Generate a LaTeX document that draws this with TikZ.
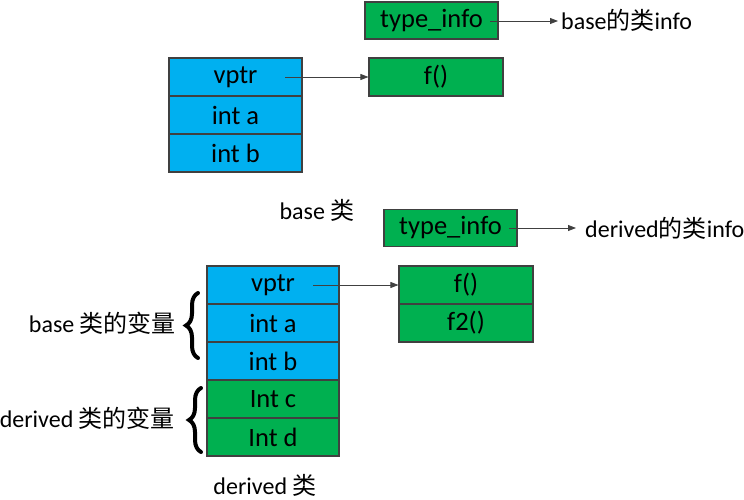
\documentclass[tikz,border=0pt]{standalone}
\usepackage{fontspec}
\setmainfont{Carlito}
\newfontfamily\cjk{Noto Sans CJK SC}
\usetikzlibrary{arrows.meta,decorations.pathreplacing}
\definecolor{cellblue}{HTML}{00B0F0}
\definecolor{cellgreen}{HTML}{00B050}
\definecolor{edgegray}{HTML}{404040}
\tikzset{
  cell/.style={draw=edgegray, line width=1.1pt, minimum height=38pt, inner sep=0pt,
    font=\fontsize{26.5}{30}\selectfont},
  bcell/.style={cell, fill=cellblue, minimum width=133pt},
  gcell/.style={cell, fill=cellgreen, minimum width=133pt},
  lbl/.style={inner sep=0pt, font=\fontsize{24}{28}\selectfont},
  ptr/.style={draw=edgegray, line width=0.8pt, -{Triangle[length=8pt,width=6pt]}},
  bracestyle/.style={decorate, decoration={brace, amplitude=12pt}, line width=4pt, line cap=round}
}
\begin{document}
\begin{tikzpicture}[x=1pt,y=-1pt]
\useasboundingbox (0,0) rectangle (744,500);
% base class
\node[gcell, minimum width=133pt, minimum height=37pt] (ti1) at (431.5,20.5) {type\_info};
\node[lbl, anchor=west] (ti1l) at (561,20) {base{\cjk 的类}info};
\node[bcell] (bvptr) at (235.5,77) {vptr};
\node[bcell] (ba) at (235.5,115) {int a};
\node[bcell] (bb) at (235.5,153) {int b};
\node[gcell, minimum width=134pt] (bf) at (436,77) {f()};
\node[lbl] (bcls) at (317,210) {base {\cjk 类}};
\coordinate (ti1s) at (490,21);
\coordinate (ti1e) at (558,21);
\draw[ptr] (ti1s) -- (ti1e);
\coordinate (bvs) at (285,77);
\draw[ptr] (bvs) -- (bf.west);
% derived class
\node[gcell, minimum height=37pt] (ti2) at (450.5,228) {type\_info};
\node[lbl, anchor=west] (ti2l) at (585,228) {derived{\cjk 的类}info};
\coordinate (ti2s) at (509,228);
\coordinate (ti2e) at (576,228);
\draw[ptr] (ti2s) -- (ti2e);
\node[bcell, minimum width=132pt] (dvptr) at (273,285) {vptr};
\node[bcell, minimum width=132pt] (da) at (273,323) {int a};
\node[bcell, minimum width=132pt] (db) at (273,361) {int b};
\node[gcell, minimum width=132pt] (dc) at (273,399) {Int c};
\node[gcell, minimum width=132pt] (dd) at (273,437) {Int d};
\node[gcell, minimum width=134pt] (df) at (466,285) {f()};
\node[gcell, minimum width=134pt] (df2) at (466,323) {f2()};
\coordinate (dvs) at (313,285);
\draw[ptr] (dvs) -- (df.west);
\node[lbl] (dcls) at (265,485) {derived {\cjk 类}};
% braces
\coordinate (b1a) at (198,358);
\coordinate (b1b) at (198,293);
\draw[bracestyle] (b1a) -- (b1b);
\node[lbl, anchor=east] (b1l) at (176,323) {base {\cjk 类的变量}};
\coordinate (b2a) at (201,452);
\coordinate (b2b) at (201,388);
\draw[bracestyle] (b2a) -- (b2b);
\node[lbl, anchor=east] (b2l) at (175,418) {derived {\cjk 类的变量}};
\end{tikzpicture}
\end{document}
